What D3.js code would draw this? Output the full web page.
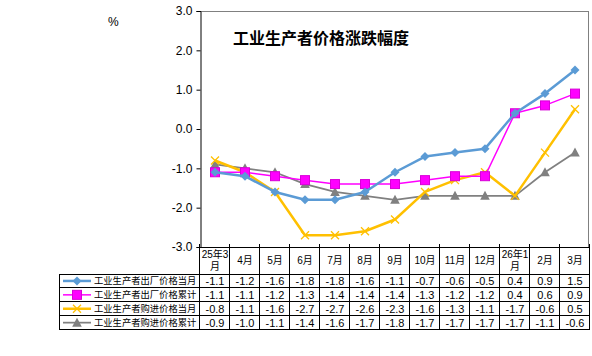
<!DOCTYPE html>
<html><head><meta charset="utf-8">
<script src="https://cdn.jsdelivr.net/npm/d3@7"></script>
<style>body{margin:0;background:#fff}svg{display:block}</style>
</head><body>
<script>
const categories = ["25年3月","4月","5月","6月","7月","8月","9月","10月","11月","12月","26年1月","2月","3月"];
const headerLines = [["25年3","月"],["4月"],["5月"],["6月"],["7月"],["8月"],["9月"],["10月"],["11月"],["12月"],["26年1","月"],["2月"],["3月"]];
const seriesNames = ["工业生产者出厂价格当月","工业生产者出厂价格累计","工业生产者购进价格当月","工业生产者购进价格累计"];
const ppiMonthly = [-1.1,-1.2,-1.6,-1.8,-1.8,-1.6,-1.1,-0.7,-0.6,-0.5,0.4,0.9,1.5];
const ppiCumulative = [-1.1,-1.1,-1.2,-1.3,-1.4,-1.4,-1.4,-1.3,-1.2,-1.2,0.4,0.6,0.9];
const ppirmMonthly = [-0.8,-1.1,-1.6,-2.7,-2.7,-2.6,-2.3,-1.6,-1.3,-1.1,-1.7,-0.6,0.5];
const ppirmCumulative = [-0.9,-1.0,-1.1,-1.4,-1.6,-1.7,-1.8,-1.7,-1.7,-1.7,-1.7,-1.1,-0.6];
const yTicks = [-3,-2,-1,0,1,2,3];
const title = "工业生产者价格涨跌幅度";

(function () {
const series = [
  {name: seriesNames[0], values: ppiMonthly, color: "#5B9BD5", width: 2.5, marker: "diamond"},
  {name: seriesNames[1], values: ppiCumulative, color: "#FF00FF", width: 1.5, marker: "square"},
  {name: seriesNames[2], values: ppirmMonthly, color: "#FFC000", width: 2.5, marker: "x"},
  {name: seriesNames[3], values: ppirmCumulative, color: "#808080", width: 1.75, marker: "triangle"}
];

const W = 592, H = 356;
const svg = d3.select("body").append("svg").attr("width", W).attr("height", H);
const pL = 200, pR = 590, pT = 11, pB = 247;
const x = d3.scaleBand().domain(categories).range([pL, pR]);
const y = d3.scaleLinear().domain([-3, 3]).range([pB, pT]);
const cjk = "'Liberation Sans', Arial, 'Noto Sans CJK SC', sans-serif";

svg.append("line").attr("x1", pL).attr("x2", pR - 1).attr("y1", pT + 0.5).attr("y2", pT + 0.5).attr("stroke", "#808080");
svg.append("line").attr("x1", pR - 1.5).attr("x2", pR - 1.5).attr("y1", pT).attr("y2", pB).attr("stroke", "#808080");

const yAxis = d3.axisLeft(y).tickValues(yTicks).tickSize(4).tickPadding(4).tickFormat(d => d.toFixed(1));
const yg = svg.append("g").attr("transform", `translate(${pL + 0.5},0)`).call(yAxis);
yg.select(".domain").attr("stroke", "#000");
yg.selectAll(".tick line").attr("stroke", "#000");
yg.selectAll("text").attr("font-family", cjk).attr("font-size", 12).attr("fill", "#000");

const bounds = categories.map(c => x(c)).concat([pR]);
svg.selectAll(".xt").data(bounds).enter().append("line")
  .attr("x1", d => Math.round(d) - 0.5).attr("x2", d => Math.round(d) - 0.5)
  .attr("y1", pB - 3).attr("y2", pB).attr("stroke", "#000");

svg.append("text").attr("x", 108).attr("y", 26).attr("font-family", cjk).attr("font-size", 12).text("%");
svg.append("text").attr("x", 233).attr("y", 44).attr("font-family", "'Noto Sans CJK SC', sans-serif")
  .attr("font-size", 16).attr("font-weight", "bold").text(title);

const line = d3.line().x((d, i) => x(categories[i]) + x.bandwidth() / 2).y(d => y(d));
function drawMarker(g, type, color, cx, cy) {
  if (type === "diamond") {
    const r = 4.5;
    g.append("path").attr("d", `M${cx},${cy-r}L${cx+r},${cy}L${cx},${cy+r}L${cx-r},${cy}Z`).attr("fill", color);
  } else if (type === "square") {
    g.append("rect").attr("x", cx - 4.5).attr("y", cy - 4.5).attr("width", 9).attr("height", 9).attr("fill", color).attr("stroke", "#D800D8").attr("stroke-width", 1);
  } else if (type === "x") {
    g.append("path").attr("d", `M${cx-4},${cy-4}L${cx+4},${cy+4}M${cx-4},${cy+4}L${cx+4},${cy-4}`).attr("stroke", color).attr("stroke-width", 1.3).attr("fill", "none");
  } else if (type === "triangle") {
    g.append("path").attr("d", `M${cx},${cy-5}L${cx+4.8},${cy+4}L${cx-4.8},${cy+4}Z`).attr("fill", color);
  }
}
[3, 2, 1, 0].forEach(k => {
  const s = series[k];
  const g = svg.append("g");
  g.append("path").attr("d", line(s.values)).attr("fill", "none").attr("stroke", s.color).attr("stroke-width", s.width).attr("stroke-linejoin", "round");
  s.values.forEach((v, i) => drawMarker(g, s.marker, s.color, x(categories[i]) + x.bandwidth() / 2, y(v)));
});

const tLeft = 59, headerTop = pB, headerBottom = 273.5, rowH = 13.9;
const rowsY = d3.range(5).map(i => headerBottom + i * rowH);
const tg = svg.append("g").attr("shape-rendering", "crispEdges");
tg.append("line").attr("x1", pL).attr("x2", pR).attr("y1", headerTop + 0.5).attr("y2", headerTop + 0.5).attr("stroke", "#000");
rowsY.forEach(yy => tg.append("line").attr("x1", tLeft).attr("x2", pR).attr("y1", Math.round(yy) + 0.5).attr("y2", Math.round(yy) + 0.5).attr("stroke", "#000"));
tg.append("line").attr("x1", tLeft + 0.5).attr("x2", tLeft + 0.5).attr("y1", Math.round(rowsY[0])).attr("y2", Math.round(rowsY[4]) + 1).attr("stroke", "#000");
bounds.forEach(bx => tg.append("line").attr("x1", Math.round(bx) - 0.5).attr("x2", Math.round(bx) - 0.5).attr("y1", headerTop).attr("y2", Math.round(rowsY[4]) + 1).attr("stroke", "#000"));

categories.forEach((c, i) => {
  const cx = x(c) + x.bandwidth() / 2;
  const lines = headerLines[i];
  const t = svg.append("text").attr("text-anchor", "middle").attr("font-family", cjk).attr("font-size", 10).attr("fill", "#000");
  if (lines.length === 1) {
    t.append("tspan").attr("x", cx).attr("y", 264).text(lines[0]);
  } else {
    t.append("tspan").attr("x", cx).attr("y", 258).text(lines[0]);
    t.append("tspan").attr("x", cx).attr("y", 270).text(lines[1]);
  }
});

series.forEach((s, r) => {
  const cy = rowsY[r] + rowH / 2 + 0.5;
  const lg = svg.append("g");
  lg.append("line").attr("x1", 63).attr("x2", 91).attr("y1", cy).attr("y2", cy).attr("stroke", s.color).attr("stroke-width", s.width);
  drawMarker(lg, s.marker, s.color, 77, cy);
  svg.append("text").attr("x", 94).attr("y", cy + 3.5).attr("font-family", "'Noto Sans CJK SC', sans-serif").attr("font-size", 9.3).attr("fill", "#000").text(s.name);
  s.values.forEach((v, i) => {
    svg.append("text").attr("x", x(categories[i]) + x.bandwidth() / 2).attr("y", cy + 4).attr("text-anchor", "middle")
      .attr("font-family", cjk).attr("font-size", 11).attr("fill", "#000").text(v.toFixed(1));
  });
});
})();
</script>
</body></html>
